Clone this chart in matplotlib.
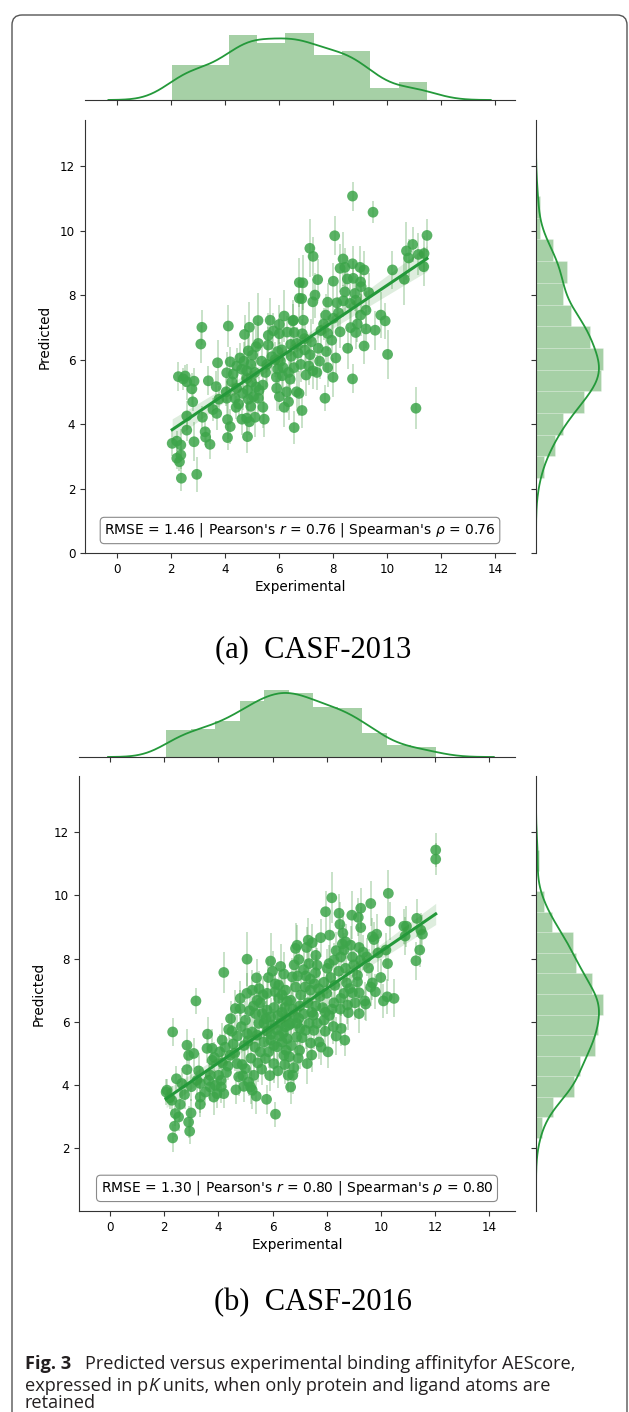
import numpy as np
import matplotlib.pyplot as plt
from matplotlib.patches import FancyBboxPatch
from matplotlib.transforms import IdentityTransform

W, H = 629, 1412

# (experimental pK, predicted pK, std of prediction)
casf2013_pts = [
    (2.27, 5.47, 0.45), (2.52, 5.49, 0.35), (2.58, 5.31, 0.55), (2.85, 5.33, 0.40), (2.77, 5.09, 0.50),
    (2.80, 4.69, 0.30), (2.58, 4.25, 0.45), (2.58, 3.81, 0.35), (2.85, 3.45, 0.60), (2.04, 3.40, 0.40),
    (2.21, 3.47, 0.30), (2.36, 3.35, 0.50), (2.21, 2.94, 0.35), (2.36, 3.04, 0.45), (2.31, 2.83, 0.30),
    (2.38, 2.32, 0.40), (2.95, 2.44, 0.55), (2.45, 5.40, 0.35),
    (3.14, 7.00, 0.55), (3.10, 6.48, 0.60), (3.38, 5.34, 0.45), (3.67, 5.16, 0.50), (3.72, 5.90, 0.70),
    (3.77, 4.77, 0.40), (4.06, 4.80, 0.55), (4.06, 5.59, 0.65), (4.04, 5.00, 0.45), (3.69, 4.33, 0.50),
    (3.16, 4.21, 0.35), (3.26, 3.76, 0.40), (3.28, 3.59, 0.30), (3.44, 3.37, 0.45), (4.09, 4.14, 0.60),
    (4.09, 3.58, 0.40), (4.12, 7.04, 0.65), (3.55, 4.45, 0.35),
    (4.72, 6.78, 0.60), (4.90, 7.00, 0.80), (4.19, 5.93, 0.45), (4.43, 5.80, 0.55), (4.62, 5.70, 0.50),
    (4.80, 5.65, 0.70), (4.25, 5.31, 0.40), (4.43, 5.11, 0.60), (4.37, 4.80, 0.45), (4.41, 4.52, 0.35),
    (4.83, 5.05, 0.55), (4.86, 4.77, 0.50), (4.80, 5.42, 0.65), (5.02, 6.14, 0.75), (4.86, 6.27, 0.55),
    (5.11, 4.21, 0.60), (4.80, 4.18, 0.45), (4.62, 4.15, 0.50), (4.90, 4.07, 0.40), (4.19, 3.92, 0.55),
    (4.83, 3.61, 0.50), (4.55, 6.05, 0.45), (4.70, 5.95, 0.60), (4.95, 5.85, 0.50), (5.10, 5.60, 0.70),
    (4.98, 5.30, 0.55), (5.15, 5.15, 0.45), (4.65, 4.95, 0.50), (4.50, 4.62, 0.40), (4.95, 4.55, 0.60),
    (5.05, 4.85, 0.50), (4.30, 5.55, 0.45), (5.15, 6.40, 0.65),
    (5.22, 7.21, 0.85), (5.67, 7.22, 0.70), (5.79, 6.89, 0.55), (6.01, 7.09, 0.60), (6.19, 7.35, 0.80),
    (6.01, 6.80, 0.50), (5.23, 6.50, 0.65), (5.60, 6.45, 0.55), (5.73, 6.09, 0.60), (5.91, 5.11, 0.70),
    (6.01, 4.85, 0.45), (6.19, 4.52, 0.60), (5.40, 5.21, 0.55), (5.23, 4.80, 0.50), (5.40, 4.52, 0.65),
    (5.26, 5.05, 0.40), (5.85, 6.00, 0.55), (6.05, 5.95, 0.60), (5.95, 5.70, 0.45), (6.15, 5.75, 0.65),
    (5.90, 5.45, 0.50), (6.12, 5.50, 0.55), (5.55, 5.85, 0.60), (5.50, 5.60, 0.45), (5.35, 5.95, 0.50),
    (5.60, 6.75, 0.70), (5.45, 4.15, 0.55), (5.95, 6.25, 0.60), (6.10, 6.30, 0.50),
    (6.51, 7.20, 0.65), (6.75, 8.39, 0.75), (6.75, 7.90, 0.60), (6.88, 8.38, 0.85), (6.84, 7.89, 0.55),
    (7.25, 7.79, 0.70), (6.53, 7.22, 0.50), (6.90, 7.22, 0.60), (6.56, 6.84, 0.55), (6.86, 6.80, 0.45),
    (6.43, 6.47, 0.60), (6.65, 6.50, 0.50), (6.28, 5.00, 0.65), (6.35, 4.69, 0.55), (6.65, 5.00, 0.60),
    (6.56, 3.89, 0.50), (6.85, 4.42, 0.55), (6.74, 4.95, 0.70), (6.41, 5.39, 0.60), (7.00, 5.52, 0.65),
    (7.14, 9.45, 0.90), (7.26, 9.20, 0.60), (6.30, 6.85, 0.50), (6.45, 6.10, 0.55), (6.70, 6.20, 0.60),
    (6.95, 6.30, 0.45), (7.15, 6.15, 0.65), (6.55, 5.75, 0.50), (6.80, 5.85, 0.55), (7.10, 5.80, 0.60),
    (6.35, 5.60, 0.45), (7.20, 6.55, 0.70), (6.95, 6.65, 0.50), (7.25, 5.65, 0.55),
    (8.06, 9.84, 0.60), (7.43, 8.48, 0.65), (8.01, 8.43, 0.55), (7.33, 8.00, 0.70), (7.80, 7.78, 0.60),
    (8.14, 7.76, 0.55), (7.73, 7.38, 0.65), (8.20, 7.45, 0.50), (8.01, 7.28, 0.60), (7.80, 6.81, 0.55),
    (8.26, 8.83, 0.75), (8.26, 6.86, 0.50), (7.70, 4.80, 0.40), (7.55, 6.90, 0.55), (7.95, 6.60, 0.60),
    (7.45, 6.35, 0.50), (7.75, 6.25, 0.65), (7.50, 5.95, 0.55), (7.80, 5.75, 0.60), (8.10, 6.05, 0.50),
    (7.40, 5.60, 0.55), (8.00, 5.45, 0.60), (7.65, 7.10, 0.50),
    (8.72, 11.07, 0.45), (8.37, 9.12, 0.85), (8.44, 8.86, 0.60), (8.72, 8.97, 0.55), (9.00, 8.86, 0.65),
    (9.15, 8.78, 0.60), (8.53, 8.50, 0.70), (8.75, 8.52, 0.55), (9.02, 8.41, 0.60), (9.04, 8.26, 0.50),
    (8.44, 8.10, 0.65), (8.81, 8.05, 0.55), (9.32, 8.08, 0.60), (8.38, 7.82, 0.50), (8.63, 7.74, 0.60),
    (8.84, 7.84, 0.55), (9.02, 7.38, 0.65), (9.22, 7.53, 0.60), (8.65, 6.99, 0.55), (8.84, 6.84, 0.50),
    (9.22, 6.95, 0.60), (8.54, 6.35, 0.65), (9.15, 6.42, 0.55), (8.72, 5.40, 0.45), (8.90, 7.10, 0.55),
    (9.48, 10.57, 0.35), (10.20, 8.78, 0.60), (9.77, 7.38, 0.70), (9.93, 7.20, 0.55), (9.56, 6.91, 0.60),
    (10.02, 6.16, 0.75),
    (10.95, 9.57, 0.55), (10.72, 9.37, 0.90), (10.80, 9.15, 0.60), (11.16, 9.26, 0.65), (11.37, 9.29, 0.55),
    (11.36, 8.88, 0.60), (10.64, 8.49, 0.80), (11.07, 4.49, 0.65), (11.48, 9.85, 0.50),
]

casf2016_pts = [
    (2.31, 5.68, 0.45), (2.84, 5.26, 0.50), (2.90, 4.94, 0.40), (2.84, 4.49, 0.55), (2.10, 3.84, 0.35),
    (2.28, 3.52, 0.45), (2.59, 3.39, 0.50), (2.41, 3.10, 0.40), (2.53, 2.99, 0.45), (2.90, 2.83, 0.50),
    (2.38, 2.70, 0.35), (2.94, 2.54, 0.40), (2.31, 2.33, 0.45), (2.07, 3.78, 0.40), (2.20, 3.60, 0.35),
    (2.65, 4.05, 0.50), (2.75, 3.70, 0.45), (2.45, 4.20, 0.40),
    (3.17, 6.66, 0.40), (3.09, 5.00, 0.50), (3.60, 5.61, 0.55), (3.58, 5.16, 0.45), (3.77, 5.16, 0.60),
    (3.85, 4.87, 0.50), (3.27, 4.45, 0.55), (2.99, 3.12, 0.45), (3.33, 3.62, 0.50), (3.33, 3.39, 0.40),
    (3.33, 4.05, 0.55), (3.00, 3.95, 0.45), (3.70, 4.31, 0.60), (3.64, 4.15, 0.50), (3.70, 3.94, 0.45),
    (3.83, 3.62, 0.55), (3.77, 4.78, 0.50), (3.21, 4.15, 0.45), (3.52, 3.78, 0.40),
    (4.20, 7.56, 0.65), (4.14, 5.42, 0.55), (4.38, 5.76, 0.50), (4.50, 5.70, 0.60), (4.01, 4.31, 0.45),
    (4.10, 4.15, 0.55), (4.10, 3.94, 0.50), (4.20, 3.73, 0.45), (4.63, 6.42, 0.60), (4.44, 4.94, 0.55),
    (4.69, 4.68, 0.50), (4.75, 4.26, 0.60), (3.95, 3.73, 0.45), (3.89, 3.99, 0.50), (4.05, 5.05, 0.55),
    (4.25, 5.20, 0.50), (4.55, 5.30, 0.60), (4.35, 4.60, 0.45), (4.60, 5.00, 0.55), (4.30, 4.40, 0.50),
    (4.70, 5.55, 0.65), (4.45, 6.10, 0.55), (4.15, 4.70, 0.50), (4.65, 3.85, 0.45),
    (5.06, 7.98, 0.85), (5.41, 7.39, 0.60), (4.81, 6.74, 0.55), (4.81, 6.42, 0.60), (5.25, 7.00, 0.65),
    (5.43, 6.68, 0.55), (5.37, 6.26, 0.60), (5.62, 6.26, 0.50), (5.68, 5.95, 0.65), (5.49, 5.95, 0.55),
    (5.25, 5.68, 0.60), (5.06, 5.63, 0.50), (5.43, 5.58, 0.55), (5.68, 5.36, 0.60), (4.88, 4.65, 0.50),
    (5.00, 4.52, 0.55), (5.31, 4.31, 0.65), (4.94, 3.96, 0.50), (5.19, 3.94, 0.55), (5.25, 3.84, 0.60),
    (5.12, 4.10, 0.45), (4.85, 5.85, 0.55), (5.00, 6.05, 0.60), (5.15, 6.35, 0.50), (5.30, 6.50, 0.55),
    (5.55, 6.60, 0.65), (4.95, 5.25, 0.50), (5.10, 5.40, 0.55), (5.35, 5.20, 0.60), (5.55, 5.05, 0.50),
    (5.20, 4.85, 0.55), (5.45, 4.70, 0.60), (5.60, 4.50, 0.50), (5.05, 6.90, 0.65), (5.50, 7.05, 0.55),
    (5.65, 6.85, 0.60), (4.90, 4.30, 0.50), (5.40, 3.65, 0.55),
    (5.93, 7.92, 0.90), (6.42, 7.51, 0.70), (6.10, 7.20, 0.60), (5.80, 6.37, 0.55), (5.93, 6.16, 0.60),
    (5.93, 5.42, 0.50), (6.17, 5.21, 0.55), (6.36, 5.36, 0.60), (6.54, 5.47, 0.50), (6.48, 5.84, 0.65),
    (6.23, 7.16, 0.55), (6.48, 7.00, 0.60), (6.23, 6.74, 0.50), (5.80, 6.90, 0.55), (6.05, 4.68, 0.60),
    (6.11, 3.08, 0.40), (5.74, 4.84, 0.55), (5.86, 5.05, 0.50), (6.42, 4.94, 0.60), (6.58, 4.31, 0.55),
    (6.20, 6.20, 0.55), (6.35, 6.30, 0.60), (6.50, 6.15, 0.50), (6.45, 6.45, 0.55), (6.05, 6.45, 0.60),
    (6.00, 5.90, 0.50), (6.15, 5.75, 0.55), (6.30, 5.95, 0.60), (5.80, 5.70, 0.50), (6.25, 5.55, 0.55),
    (5.95, 5.60, 0.60), (6.40, 5.65, 0.50), (5.75, 6.10, 0.55), (6.10, 6.95, 0.60), (6.35, 6.85, 0.55),
    (6.55, 6.65, 0.50), (5.85, 7.40, 0.60), (6.00, 7.60, 0.65), (6.30, 7.75, 0.70), (6.20, 4.45, 0.55),
    (5.90, 4.30, 0.50), (6.45, 4.65, 0.60), (5.78, 3.55, 0.45), (6.50, 5.10, 0.55), (6.05, 5.25, 0.50),
    (6.73, 7.42, 0.60), (6.85, 8.32, 0.80), (6.91, 8.42, 0.65), (7.32, 8.58, 0.70), (7.47, 8.50, 0.60),
    (7.26, 8.35, 0.65), (6.97, 7.97, 0.55), (6.93, 7.45, 0.60), (7.23, 7.45, 0.55), (6.80, 7.80, 0.65),
    (7.35, 7.84, 0.60), (6.67, 5.95, 0.55), (6.67, 6.68, 0.60), (6.67, 3.94, 0.55), (6.97, 6.11, 0.60),
    (7.01, 5.79, 0.55), (6.89, 5.52, 0.60), (7.41, 5.33, 0.55), (7.22, 5.73, 0.60), (7.28, 4.68, 0.65),
    (6.79, 4.55, 0.55), (6.75, 4.31, 0.60), (6.62, 4.90, 0.55), (6.62, 5.90, 0.50), (7.20, 7.10, 0.60),
    (7.40, 7.00, 0.55), (6.85, 7.10, 0.60), (7.05, 6.85, 0.55), (6.75, 6.40, 0.60), (7.00, 6.50, 0.50),
    (7.30, 6.60, 0.55), (7.45, 6.30, 0.60), (6.80, 6.20, 0.55), (7.15, 6.25, 0.60), (6.90, 5.95, 0.50),
    (7.35, 5.95, 0.55), (7.10, 5.50, 0.60), (6.70, 5.25, 0.55), (7.00, 5.10, 0.60), (7.45, 4.95, 0.55),
    (6.95, 4.85, 0.50), (7.15, 7.65, 0.65), (7.40, 7.35, 0.60),
    (8.19, 9.92, 0.80), (7.96, 9.48, 0.65), (8.11, 8.74, 0.70), (7.78, 8.66, 0.60), (7.65, 7.79, 0.55),
    (8.09, 7.84, 0.60), (8.27, 7.95, 0.55), (8.02, 7.69, 0.60), (7.59, 7.55, 0.55), (8.27, 6.60, 0.60),
    (7.51, 6.21, 0.55), (7.53, 5.73, 0.60), (7.72, 5.36, 0.55), (7.85, 6.45, 0.60), (7.95, 6.30, 0.55),
    (8.10, 6.20, 0.60), (7.90, 6.05, 0.50), (8.20, 6.40, 0.55), (7.60, 6.50, 0.60), (7.75, 6.80, 0.55),
    (8.00, 6.90, 0.60), (8.30, 7.15, 0.55), (7.70, 7.05, 0.60), (7.55, 7.20, 0.50), (7.90, 7.25, 0.55),
    (8.15, 7.40, 0.60), (7.65, 5.95, 0.55), (7.95, 5.70, 0.60), (8.25, 5.85, 0.55), (8.35, 5.55, 0.60),
    (7.80, 5.20, 0.55), (8.05, 5.05, 0.50), (7.60, 8.10, 0.65), (8.35, 8.25, 0.60),
    (8.46, 9.43, 0.60), (8.93, 9.37, 0.75), (9.26, 9.59, 0.65), (9.17, 9.30, 0.60), (8.49, 9.08, 0.70),
    (9.26, 8.98, 0.65), (8.58, 8.46, 0.60), (8.70, 8.53, 0.55), (8.89, 8.42, 0.60), (9.20, 8.35, 0.65),
    (8.64, 8.27, 0.55), (8.52, 8.05, 0.60), (8.95, 8.05, 0.55), (8.70, 7.69, 0.60), (9.14, 7.47, 0.55),
    (8.74, 7.23, 0.60), (9.14, 7.26, 0.55), (8.64, 6.90, 0.60), (8.95, 6.92, 0.55), (9.20, 6.92, 0.60),
    (8.52, 6.74, 0.55), (8.77, 6.53, 0.60), (8.80, 6.29, 0.55), (9.20, 6.26, 0.60), (8.54, 5.79, 0.55),
    (8.67, 5.42, 0.50), (8.45, 7.60, 0.60), (9.00, 7.80, 0.55), (8.85, 7.05, 0.60), (9.05, 6.60, 0.55),
    (8.50, 6.40, 0.60), (9.25, 7.95, 0.55), (8.60, 8.80, 0.65),
    (9.63, 9.74, 0.70), (9.69, 8.69, 0.60), (9.85, 8.77, 0.65), (9.75, 8.60, 0.55), (9.90, 8.18, 0.60),
    (10.19, 8.27, 0.55), (9.48, 8.05, 0.60), (9.69, 7.23, 0.55), (9.63, 7.10, 0.60), (10.10, 6.66, 0.55),
    (9.41, 6.66, 0.60), (9.44, 6.56, 0.55), (9.55, 7.70, 0.60), (9.35, 8.20, 0.55), (10.00, 7.40, 0.60),
    (9.80, 6.95, 0.55),
    (10.28, 10.06, 0.75), (10.34, 9.18, 0.60), (10.95, 9.02, 0.65), (10.85, 9.02, 0.55), (10.90, 8.71, 0.60),
    (10.25, 7.84, 0.55), (10.49, 6.74, 0.60), (10.24, 6.79, 0.55),
    (12.03, 11.43, 0.55), (12.03, 11.14, 0.50), (11.33, 9.27, 0.60), (11.48, 8.90, 0.55), (11.54, 8.77, 0.60),
    (11.44, 8.27, 0.55), (11.30, 7.93, 0.60),
]

casf2013_stats = "RMSE = 1.46 | Pearson's $r$ = 0.76 | Spearman's $\\rho$ = 0.76"
casf2016_stats = "RMSE = 1.30 | Pearson's $r$ = 0.80 | Spearman's $\\rho$ = 0.80"
xticks = [0, 2, 4, 6, 8, 10, 12, 14]

GREEN = '#228b22'
LINE = '#24993a'
DOT = '#3da54a'
SPINE = '#333333'


def rect(l, t, r, b):
    # pixel box (from top-left) -> figure fraction
    return [l / W, 1 - b / H, (r - l) / W, (b - t) / H]


def kde(v):
    bw = v.std(ddof=1) * len(v) ** (-1 / 5)
    grid = np.linspace(v.min() - 3 * bw, v.max() + 3 * bw, 300)
    z = (grid[:, None] - v[None, :]) / bw
    dens = np.exp(-0.5 * z ** 2).sum(1) / (len(v) * bw * np.sqrt(2 * np.pi))
    return grid, dens


def joint(fig, main_px, top_px, right_px, pts, xlim, ylim, yticks, nbx, nby, stats):
    x, y, err = np.array(pts).T
    ax = fig.add_axes(rect(*main_px))
    axx = fig.add_axes(rect(*top_px))
    axy = fig.add_axes(rect(*right_px))

    ax.errorbar(x, y, yerr=err, fmt='none', ecolor=GREEN, alpha=0.25, elinewidth=1.4, zorder=1)
    ax.scatter(x, y, s=60, color=DOT, alpha=0.85, edgecolors='none', zorder=2)

    # least squares fit with its 95% confidence band
    slope, icpt = np.polyfit(x, y, 1)
    xs = np.linspace(x.min(), x.max(), 100)
    fit = icpt + slope * xs
    n = len(x)
    s = np.sqrt(((y - icpt - slope * x) ** 2).sum() / (n - 2))
    se = s * np.sqrt(1 / n + (xs - x.mean()) ** 2 / ((x - x.mean()) ** 2).sum())
    ax.fill_between(xs, fit - 1.97 * se, fit + 1.97 * se, color=GREEN, alpha=0.15, lw=0, zorder=3)
    ax.plot(xs, fit, color=LINE, lw=2.2, zorder=4)

    ax.set_xlim(xlim)
    ax.set_ylim(ylim)
    ax.set_xticks(xticks)
    ax.set_yticks(yticks)
    ax.tick_params(labelsize=8.6, length=3.5, width=0.8, color=SPINE)
    for side in ['top', 'right']:
        ax.spines[side].set_visible(False)
    for side in ['left', 'bottom']:
        ax.spines[side].set_color(SPINE)
        ax.spines[side].set_linewidth(0.8)
    ax.set_xlabel('Experimental', fontsize=9.8, labelpad=3)
    ax.set_ylabel('Predicted', fontsize=9.8, labelpad=6)
    ax.text(0.5, 0.052, stats, transform=ax.transAxes, ha='center', va='center', fontsize=10,
            bbox=dict(boxstyle='round,pad=0.3', fc='white', ec='#8a8a8a', lw=0.8), zorder=6)

    # marginal distributions
    hx, _ = np.histogram(x, bins=nbx, density=True)
    axx.hist(x, bins=nbx, density=True, color=GREEN, alpha=0.4, edgecolor='none')
    gx, dx = kde(x)
    axx.plot(gx, dx, color=LINE, lw=1.3)
    axx.set_xlim(xlim)
    axx.set_ylim(0, max(hx.max(), dx.max()) * 1.05)
    axx.set_xticks(xticks)
    axx.set_yticks([])
    axx.tick_params(labelbottom=False, length=3.5, width=0.8, color=SPINE)
    for side in ['top', 'right', 'left']:
        axx.spines[side].set_visible(False)
    axx.spines['bottom'].set_color(SPINE)
    axx.spines['bottom'].set_linewidth(0.8)

    hy, _ = np.histogram(y, bins=nby, density=True)
    axy.hist(y, bins=nby, density=True, orientation='horizontal', color=GREEN, alpha=0.4,
             edgecolor='white', linewidth=0.4)
    gy, dy = kde(y)
    axy.plot(dy, gy, color=LINE, lw=1.3)
    axy.set_ylim(ylim)
    axy.set_xlim(0, max(hy.max(), dy.max()) * 1.05)
    axy.set_yticks(yticks)
    axy.set_xticks([])
    axy.tick_params(labelleft=False, length=3.5, width=0.8, color=SPINE)
    for side in ['top', 'right', 'bottom']:
        axy.spines[side].set_visible(False)
    axy.spines['left'].set_color(SPINE)
    axy.spines['left'].set_linewidth(0.8)


fig = plt.figure(figsize=(W / 100, H / 100), dpi=100)

joint(fig, (85, 120, 515, 553), (85, 30, 515, 100), (536, 120, 606, 553),
      casf2013_pts, (-1.19, 14.74), (0, 13.43), [0, 2, 4, 6, 8, 10, 12], 9, 13, casf2013_stats)
joint(fig, (79, 776, 515, 1211), (79, 687, 515, 757), (536, 776, 606, 1211),
      casf2016_pts, (-1.15, 14.96), (0.02, 13.77), [2, 4, 6, 8, 10, 12], 11, 14, casf2016_stats)

fig.text(313 / W, 1 - 650 / H, '(a)  CASF-2013', ha='center', va='center',
         family='Liberation Serif', fontsize=22)
fig.text(313 / W, 1 - 1303 / H, '(b)  CASF-2016', ha='center', va='center',
         family='Liberation Serif', fontsize=22)

# rounded frame around the figure block
frame = FancyBboxPatch((12, -30), 615, H - 15 + 30, boxstyle='round,pad=0,rounding_size=10',
                       transform=IdentityTransform(), fill=False, ec='#555555', lw=1.0)
fig.add_artist(frame)

# caption, written piece by piece so bold and italic runs sit inline
CAP = dict(family='Open Sans', fontsize=13.1, color='#231f20', va='baseline')
renderer = fig.canvas.get_renderer()


def runs(x_px, y_px, pieces):
    for txt, extra in pieces:
        t = fig.text(x_px / W, 1 - y_px / H, txt, **CAP, **extra)
        x_px += t.get_window_extent(renderer).width


runs(25, 1369, [('Fig. 3', {'weight': 'bold'})])
runs(85, 1369, [('Predicted versus experimental binding affinityfor AEScore,', {})])
runs(25, 1391, [('expressed in p', {}), ('K', {'style': 'italic'}),
                (' units, when only protein and ligand atoms are', {})])
runs(25, 1408, [('retained', {})])

fig.savefig('out.png', dpi=100)
